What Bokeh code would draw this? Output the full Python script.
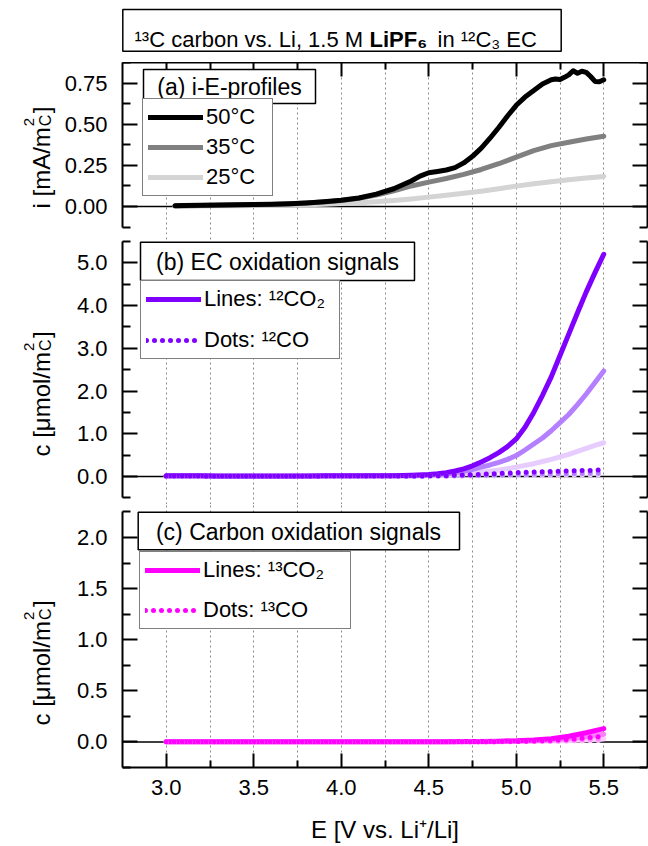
from bokeh.plotting import figure
from bokeh.models import (Range1d, LinearAxis, FixedTicker, PrintfTickFormatter, Grid, Span,
                          Legend, LegendItem, Label, BoxAnnotation, CustomLabelingPolicy)
from bokeh.layouts import column, row
from bokeh.embed import file_html
from bokeh.resources import INLINE

FONT = "Liberation Sans"

# ---------------- data ----------------
# (a) i-E profiles, i in mA/m2_C
E_a50 = [3.05, 3.1, 3.2, 3.3, 3.4, 3.5, 3.6, 3.7, 3.8, 3.9, 4.0, 4.1, 4.2, 4.3, 4.4, 4.45, 4.5,
         4.55, 4.6, 4.65, 4.7, 4.75, 4.8, 4.85, 4.9, 4.95, 5.0, 5.05, 5.1, 5.15, 5.2, 5.225,
         5.25, 5.275, 5.3, 5.325, 5.35, 5.375, 5.4, 5.425, 5.45, 5.475, 5.5]
i_50 = [0.005, 0.006, 0.008, 0.009, 0.010, 0.012, 0.014, 0.017, 0.022, 0.029, 0.038, 0.052,
        0.075, 0.108, 0.155, 0.185, 0.205, 0.213, 0.222, 0.236, 0.265, 0.305, 0.355, 0.415,
        0.48, 0.55, 0.615, 0.665, 0.705, 0.745, 0.77, 0.775, 0.772, 0.785, 0.80, 0.825, 0.81,
        0.822, 0.815, 0.79, 0.76, 0.758, 0.77]
E_a = [3.05, 3.1, 3.2, 3.3, 3.4, 3.5, 3.6, 3.7, 3.8, 3.9, 4.0, 4.1, 4.2, 4.3, 4.4, 4.5, 4.6,
       4.7, 4.8, 4.9, 5.0, 5.1, 5.2, 5.3, 5.4, 5.5]
i_35 = [0.004, 0.005, 0.006, 0.007, 0.009, 0.011, 0.013, 0.016, 0.021, 0.028, 0.036, 0.05,
        0.07, 0.095, 0.125, 0.148, 0.17, 0.195, 0.225, 0.26, 0.30, 0.34, 0.37, 0.39, 0.41, 0.427]
i_25 = [0.002, 0.002, 0.003, 0.004, 0.005, 0.006, 0.007, 0.009, 0.011, 0.014, 0.018, 0.023,
        0.029, 0.037, 0.046, 0.057, 0.068, 0.08, 0.093, 0.108, 0.124, 0.138, 0.151, 0.163,
        0.173, 0.183]

# (b) EC oxidation: 12CO2 (lines) on a finer potential grid, c in umol/m2_C
E_f = [3.0, 3.1, 3.2, 3.3, 3.4, 3.5, 3.6, 3.7, 3.8, 3.9, 4.0, 4.1, 4.2, 4.3, 4.4, 4.5, 4.55,
       4.6, 4.65, 4.7, 4.75, 4.8, 4.85, 4.9, 4.95, 5.0, 5.05, 5.1, 5.15, 5.2, 5.25, 5.3, 5.35,
       5.4, 5.45, 5.5]
co2_12_50 = [0.02, 0.02, 0.015, 0.01, 0.01, 0.01, 0.01, 0.01, 0.01, 0.015, 0.015, 0.015, 0.02,
             0.02, 0.03, 0.045, 0.065, 0.09, 0.13, 0.18, 0.25, 0.34, 0.44, 0.56, 0.70, 0.88,
             1.15, 1.5, 1.9, 2.33, 2.83, 3.33, 3.83, 4.32, 4.77, 5.2]
co2_12_35 = [0.01, 0.01, 0.01, 0.005, 0.005, 0.005, 0.005, 0.005, 0.01, 0.01, 0.01, 0.01, 0.015,
             0.015, 0.02, 0.03, 0.045, 0.06, 0.085, 0.12, 0.165, 0.22, 0.27, 0.33, 0.40, 0.49,
             0.62, 0.76, 0.90, 1.07, 1.26, 1.45, 1.68, 1.93, 2.2, 2.47]
co2_12_25 = [0.005, 0.005, 0.005, 0.005, 0.005, 0.005, 0.005, 0.005, 0.005, 0.005, 0.005, 0.005,
             0.008, 0.01, 0.012, 0.018, 0.024, 0.03, 0.045, 0.06, 0.08, 0.10, 0.125, 0.15, 0.185,
             0.22, 0.26, 0.30, 0.35, 0.40, 0.46, 0.52, 0.59, 0.66, 0.73, 0.79]

# 12CO (dots) and (c) carbon oxidation signals
E = [3.0, 3.1, 3.2, 3.3, 3.4, 3.5, 3.6, 3.7, 3.8, 3.9, 4.0, 4.1, 4.2, 4.3, 4.4, 4.5, 4.6, 4.7,
     4.8, 4.9, 5.0, 5.1, 5.2, 5.3, 5.4, 5.5]
co_12_50 = [0.01, 0.01, 0.01, 0.005, 0.005, 0.005, 0.005, 0.005, 0.005, 0.01, 0.01, 0.01, 0.01,
            0.01, 0.01, 0.015, 0.02, 0.035, 0.05, 0.07, 0.09, 0.105, 0.12, 0.13, 0.14, 0.155]
co_12_35 = [0.005, 0.005, 0.005, 0.005, 0.005, 0.005, 0.005, 0.005, 0.005, 0.005, 0.005, 0.005,
            0.005, 0.005, 0.005, 0.01, 0.012, 0.018, 0.025, 0.035, 0.045, 0.053, 0.06, 0.067,
            0.073, 0.08]
co_12_25 = [0.003, 0.003, 0.003, 0.003, 0.003, 0.003, 0.003, 0.003, 0.003, 0.003, 0.003, 0.003,
            0.003, 0.003, 0.003, 0.005, 0.006, 0.008, 0.011, 0.014, 0.018, 0.022, 0.026, 0.029,
            0.032, 0.035]
co2_13_50 = [0.002, 0.002, 0.002, 0.002, 0.002, 0.002, 0.002, 0.002, 0.002, 0.002, 0.002, 0.002,
             0.002, 0.002, 0.002, 0.002, 0.003, 0.004, 0.005, 0.008, 0.012, 0.02, 0.032, 0.055,
             0.09, 0.13]
co2_13_35 = [0.001, 0.001, 0.001, 0.001, 0.001, 0.001, 0.001, 0.001, 0.001, 0.001, 0.001, 0.001,
             0.001, 0.001, 0.001, 0.001, 0.002, 0.002, 0.003, 0.005, 0.007, 0.011, 0.017, 0.03,
             0.05, 0.075]
co2_13_25 = [0.001, 0.001, 0.001, 0.001, 0.001, 0.001, 0.001, 0.001, 0.001, 0.001, 0.001, 0.001,
             0.001, 0.001, 0.001, 0.001, 0.001, 0.001, 0.002, 0.003, 0.004, 0.006, 0.009, 0.014,
             0.021, 0.03]
co_13_50 = [0.001, 0.001, 0.001, 0.001, 0.001, 0.001, 0.001, 0.001, 0.001, 0.001, 0.001, 0.001,
            0.001, 0.001, 0.001, 0.001, 0.001, 0.002, 0.002, 0.003, 0.005, 0.009, 0.015, 0.025,
            0.04, 0.055]
co_13_35 = [0.001, 0.001, 0.001, 0.001, 0.001, 0.001, 0.001, 0.001, 0.001, 0.001, 0.001, 0.001,
            0.001, 0.001, 0.001, 0.001, 0.001, 0.001, 0.001, 0.002, 0.003, 0.005, 0.008, 0.013,
            0.021, 0.03]
co_13_25 = [0.0, 0.0, 0.0, 0.0, 0.0, 0.0, 0.0, 0.0, 0.0, 0.0, 0.0, 0.0, 0.0, 0.0, 0.0, 0.0, 0.0,
            0.001, 0.001, 0.001, 0.002, 0.003, 0.004, 0.007, 0.011, 0.015]

temps = ["50°C", "35°C", "25°C"]
x_major = [3.0, 3.5, 4.0, 4.5, 5.0, 5.5]
x_minor = [3.25, 3.75, 4.25, 4.75, 5.25]
x_grid = [3.0, 3.25, 3.5, 3.75, 4.0, 4.25, 4.5, 4.75, 5.0, 5.25, 5.5]
ya_major = [0.0, 0.25, 0.5, 0.75]
ya_minor = [-0.125, 0.125, 0.375, 0.625, 0.875]
yb_major = [0.0, 1.0, 2.0, 3.0, 4.0, 5.0]
yb_minor = [-0.5, 0.5, 1.5, 2.5, 3.5, 4.5, 5.5]
yc_major = [0.0, 0.5, 1.0, 1.5, 2.0]
yc_minor = [-0.25, 0.25, 0.75, 1.25, 1.75, 2.25]

# ---------------- layout constants (canvas pixels) ----------------
W, H = 648, 846
TITLE_H = 62
LAB_W = 60
FL, FR = 122, 647
X0, X1 = 2.75, 5.75
YA = (-0.17, 0.875)
YB = (-0.655, 5.662)
YC = (-0.25, 2.323)
A_TOP, A_BOT = 62, 234
B_TOP, B_BOT = 234, 504
C_TOP, C_BOT = 504, 767


def xd(px):
    return X0 + (px - FL) * (X1 - X0) / (FR - FL)


def make_yd(top, bot, rng):
    lo, hi = rng
    return lambda py: hi - (py - top) * (hi - lo) / (bot - top)


yd_a = make_yd(A_TOP, A_BOT, YA)
yd_b = make_yd(B_TOP, B_BOT, YB)
yd_c = make_yd(C_TOP, C_BOT, YC)

xr = Range1d(X0, X1)
HIDE = "return []"


def make_fig(height, yr, mtop, mbot):
    p = figure(width=W - LAB_W, height=height, x_range=xr, y_range=Range1d(*yr),
               x_axis_type=None, y_axis_type=None, toolbar_location=None,
               output_backend="svg", min_border_left=FL - LAB_W, min_border_right=W - FR,
               min_border_top=mtop, min_border_bottom=mbot, outline_line_color=None,
               background_fill_color="white", border_fill_color="white")
    p.add_layout(Grid(dimension=0, ticker=FixedTicker(ticks=x_grid),
                      grid_line_color="#8a8a8a", grid_line_dash="2 3", grid_line_width=1))
    p.add_layout(Span(location=0, dimension="width", line_color="black",
                      line_width=1.5, level="underlay"))
    return p


def y_axes(p, majors, minors, fmt, bounds):
    for side in ("left", "right"):
        ax = LinearAxis(ticker=FixedTicker(ticks=majors, minor_ticks=minors),
                        formatter=PrintfTickFormatter(format=fmt), bounds=bounds,
                        major_tick_in=15, major_tick_out=0, minor_tick_in=8, minor_tick_out=0,
                        axis_line_width=2, major_tick_line_width=2, minor_tick_line_width=2,
                        major_label_text_font=FONT, major_label_text_color="black")
        if side == "left":
            ax.major_label_text_font_size = "22px"
            ax.major_label_standoff = 15
        else:
            ax.major_label_text_font_size = "0px"
            ax.major_label_standoff = 0
            ax.major_label_policy = CustomLabelingPolicy(code=HIDE)
        p.add_layout(ax, side)


def x_axis(p, side, labels):
    ax = LinearAxis(ticker=FixedTicker(ticks=x_major, minor_ticks=x_minor),
                    formatter=PrintfTickFormatter(format="%.1f"),
                    major_tick_in=14, major_tick_out=0, minor_tick_in=7, minor_tick_out=0,
                    axis_line_width=2, major_tick_line_width=2, minor_tick_line_width=2,
                    major_label_text_font=FONT, major_label_text_color="black")
    if labels:
        ax.major_label_text_font_size = "22px"
        ax.major_label_standoff = 12
        ax.axis_label = "E [V vs. Li⁺/Li]"
        ax.axis_label_text_font = FONT
        ax.axis_label_text_font_size = "24px"
        ax.axis_label_text_font_style = "normal"
        ax.axis_label_text_color = "black"
        ax.axis_label_standoff = 18
    else:
        ax.major_label_text_font_size = "0px"
        ax.major_label_standoff = 0
        ax.major_label_policy = CustomLabelingPolicy(code=HIDE)
    p.add_layout(ax, side)


def box(p, xf, yf, l, r, t, b):
    p.add_layout(BoxAnnotation(left=xf(l), right=xf(r), top=yf(t), bottom=yf(b),
                               fill_color="white", fill_alpha=1.0, line_color="black",
                               line_width=1.5, line_alpha=1.0))


def text(p, xf, yf, px, py, s, size="22px", style="normal", align="center",
         baseline="middle", angle=0):
    p.add_layout(Label(x=xf(px), y=yf(py), text=s, text_font=FONT, text_font_size=size,
                       text_font_style=style, text_align=align, text_baseline=baseline,
                       text_color="black", angle=angle, angle_units="deg"))


def legend(p, items, loc, spacing, padding, label_width):
    lg = Legend(items=items, location=loc, margin=0, padding=padding, spacing=spacing,
                glyph_width=55, glyph_height=20, label_standoff=3, label_width=label_width,
                label_text_font=FONT, label_text_font_size="22px", label_text_color="black",
                border_line_color="black", border_line_width=1.5,
                background_fill_color="white", background_fill_alpha=1.0)
    p.add_layout(lg)


def plain_fig(width, height):
    return figure(width=width, height=height, x_range=Range1d(0, width),
                  y_range=Range1d(0, height), x_axis_type=None, y_axis_type=None,
                  toolbar_location=None, output_backend="svg", min_border=0,
                  min_border_left=0, min_border_right=0, min_border_top=0, min_border_bottom=0,
                  outline_line_color=None, background_fill_color="white",
                  border_fill_color="white")


LW = 5
GRAYS = ["#000000", "#808080", "#d4d4d4"]
PURPLES = ["#7f00ff", "#b580ff", "#e6ccff"]
MAGENTAS = ["#ff00ff", "#ff80ff", "#ffccff"]

# ---------------- title strip ----------------
pt = plain_fig(W, TITLE_H)
tx = lambda px: px
ty = lambda py: TITLE_H - py
box(pt, tx, ty, 122.3, 560.7, 9, 50.7)
text(pt, tx, ty, 134, 38.5, "¹³C carbon vs. Li, 1.5 M", size="22px", align="left", baseline="alphabetic")
text(pt, tx, ty, 369, 38.5, "LiPF₆", size="22px", style="bold", align="left", baseline="alphabetic")
text(pt, tx, ty, 437, 38.5, "in ¹²C₃ EC", size="22px", align="left", baseline="alphabetic")

# ---------------- y-axis title strip ----------------
pl = plain_fig(LAB_W, H - TITLE_H)
lx = lambda px: px
ly = lambda py: H - py


def ylabel(start_py, main):
    w_main = {"i [mA/m": 81.3, "c [μmol/m": 104.5}[main]
    text(pl, lx, ly, 41, start_py, main, size="24px", align="left", baseline="alphabetic", angle=90)
    text(pl, lx, ly, 45, start_py - w_main - 1, "C", size="16px", align="left", baseline="alphabetic", angle=90)
    text(pl, lx, ly, 28, start_py - w_main - 1, "2", size="15px", align="left", baseline="alphabetic", angle=90)
    text(pl, lx, ly, 41, start_py - w_main - 14, "]", size="24px", align="left", baseline="alphabetic", angle=90)


ylabel(208, "i [mA/m")
ylabel(456, "c [μmol/m")
ylabel(725, "c [μmol/m")

# ---------------- panel (a) ----------------
pa = make_fig(A_BOT - A_TOP, YA, 0, 0)
y_axes(pa, ya_major, ya_minor, "%.2f", (-0.125, 0.875))
x_axis(pa, "above", False)
r25 = pa.line(E_a, i_25, line_width=LW, color=GRAYS[2], line_cap="round", line_join="round")
r35 = pa.line(E_a, i_35, line_width=LW, color=GRAYS[1], line_cap="round", line_join="round")
r50 = pa.line(E_a50, i_50, line_width=LW, color=GRAYS[0], line_cap="round", line_join="round")
box(pa, xd, yd_a, 143, 315, 69, 103)
text(pa, xd, yd_a, 229, 86.5, "(a) i-E-profiles", size="23px")
legend(pa, [LegendItem(label=temps[0], renderers=[r50]),
            LegendItem(label=temps[1], renderers=[r35]),
            LegendItem(label=temps[2], renderers=[r25])],
       (142 - FL, A_BOT - 196), 4, 5, 61)

# ---------------- panel (b) ----------------
pb = make_fig(B_BOT - B_TOP, YB, 0, 0)
y_axes(pb, yb_major, yb_minor, "%.1f", (-0.5, 5.5))
rb = []
for vals, col in zip([co2_12_25, co2_12_35, co2_12_50], PURPLES[::-1]):
    rb.append(pb.line(E_f, vals, line_width=LW, color=col, line_cap="round", line_join="round"))
rbd = []
for vals, col in zip([co_12_25, co_12_35, co_12_50], PURPLES[::-1]):
    rbd.append(pb.line(E, vals, line_width=LW, color=col, line_cap="round", line_dash="0 8"))
box(pb, xd, yd_b, 140, 414, 241.7, 280)
text(pb, xd, yd_b, 277, 261.5, "(b) EC oxidation signals", size="23px")
legend(pb, [LegendItem(label="Lines: ¹²CO₂", renderers=[rb[2]]),
            LegendItem(label="Dots: ¹²CO", renderers=[rbd[2]])],
       (140 - FL, B_BOT - 359), 15, 5, 130)

# ---------------- panel (c) ----------------
pc = make_fig(H - C_TOP, YC, 0, H - C_BOT)
y_axes(pc, yc_major, yc_minor, "%.1f", (-0.25, 2.25))
x_axis(pc, "below", True)
rc = []
for vals, col in zip([co2_13_25, co2_13_35, co2_13_50], MAGENTAS[::-1]):
    rc.append(pc.line(E, vals, line_width=LW, color=col, line_cap="round", line_join="round"))
rcd = []
for vals, col in zip([co_13_25, co_13_35, co_13_50], MAGENTAS[::-1]):
    rcd.append(pc.line(E, vals, line_width=LW, color=col, line_cap="round", line_dash="0 8"))
box(pc, xd, yd_c, 137.7, 459, 511.7, 549.3)
text(pc, xd, yd_c, 298, 531, "(c) Carbon oxidation signals", size="23px")
legend(pc, [LegendItem(label="Lines: ¹³CO₂", renderers=[rc[2]]),
            LegendItem(label="Dots: ¹³CO", renderers=[rcd[2]])],
       (139 - FL, C_BOT - 629), 14, 5, 142)

layout = column(pt, row(pl, column(pa, pb, pc)))
open("out.html", "w").write(file_html(layout, INLINE))
